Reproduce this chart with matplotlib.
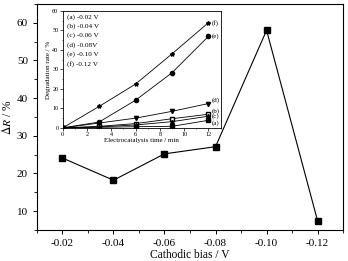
import matplotlib
matplotlib.use("Agg")
import matplotlib.pyplot as plt
from matplotlib.ticker import MultipleLocator

plt.rcParams["font.family"] = ["Liberation Serif", "DejaVu Serif"]
plt.rcParams["mathtext.fontset"] = "stix"

# main plot data
bias = [-0.02, -0.04, -0.06, -0.08, -0.10, -0.12]
delta_r = [24.1, 18.2, 25.2, 27.1, 58.0, 7.4]
bias_labels = ["-0.02", "-0.04", "-0.06", "-0.08", "-0.10", "-0.12"]

# inset data
time_min = [0, 3, 6, 9, 12]
rate_a = [0, 0.3, 0.6, 0.8, 3.9]
rate_b = [0, 0.8, 2.2, 4.7, 7.0]
rate_c = [0, 0.5, 1.5, 3.2, 6.0]
rate_d = [0, 2.5, 5.0, 8.5, 12.5]
rate_e = [0, 3.0, 14.2, 28.3, 47.0]
rate_f = [0, 11.0, 22.5, 38.0, 54.0]
series_tags = ["(a)", "(b)", "(c)", "(d)", "(e)", "(f)"]
legend_lines = ["(a) -0.02 V", "(b) -0.04 V", "(c) -0.06 V",
                "(d) -0.08V", "(e) -0.10 V", "(f) -0.12 V"]

fig = plt.figure(figsize=(3.48, 2.61), dpi=100)
ax = fig.add_axes([0.106, 0.119, 0.880, 0.866])
ax.plot(bias, delta_r, color="black", lw=0.8, marker="s", ms=4.5)
ax.set_xlim(-0.01, -0.13)
ax.set_ylim(5, 65)
ax.set_xticks(bias)
ax.set_xticklabels(bias_labels)
ax.xaxis.set_minor_locator(MultipleLocator(0.01))
ax.yaxis.set_major_locator(MultipleLocator(10))
ax.yaxis.set_minor_locator(MultipleLocator(5))
ax.tick_params(which="both", direction="out", labelsize=8, top=False, right=False)
ax.tick_params(which="major", length=3, width=0.7)
ax.tick_params(which="minor", length=2, width=0.6)
ax.set_xlabel("Cathodic bias / V", fontsize=8.3, labelpad=1)
ax.set_ylabel(r"$\Delta R$ / %", fontsize=8.3, labelpad=2)
for s in ax.spines.values():
    s.set_linewidth(0.8)

# inset
ins = fig.add_axes([0.180, 0.510, 0.454, 0.448])
styles = [
    dict(marker="s", mfc="black"),
    dict(marker="s", mfc="white"),
    dict(marker="^", mfc="black"),
    dict(marker="v", mfc="black"),
    dict(marker="o", mfc="black"),
    dict(marker="*", mfc="black"),
]
all_rates = [rate_a, rate_b, rate_c, rate_d, rate_e, rate_f]
for rates, st in zip(all_rates, styles):
    ins.plot(time_min, rates, color="black", lw=0.6, ms=3, mec="black", **st)

tag_offsets = [-1.5, 1.5, 0, 2.0, 0, 0]
for rates, tag, off in zip(all_rates, series_tags, tag_offsets):
    ins.text(12.3, rates[-1] + off, tag, fontsize=5, va="center", ha="left")

ins.set_xlim(0, 13)
ins.set_ylim(0, 60)
ins.xaxis.set_major_locator(MultipleLocator(2))
ins.xaxis.set_minor_locator(MultipleLocator(1))
ins.yaxis.set_major_locator(MultipleLocator(10))
ins.yaxis.set_minor_locator(MultipleLocator(5))
ins.tick_params(which="both", direction="out", labelsize=4.5, pad=1, top=False, right=False)
ins.tick_params(which="major", length=2, width=0.5)
ins.tick_params(which="minor", length=1, width=0.4)
ins.set_xlabel("Electrocatalysis time / min", fontsize=5, labelpad=1)
ins.set_ylabel("Degradation rate / %", fontsize=5, labelpad=1)
for s in ins.spines.values():
    s.set_linewidth(0.6)

for i, line in enumerate(legend_lines):
    ins.text(0.03, 0.95 - i * 0.08, line, transform=ins.transAxes,
             fontsize=5.2, va="center", ha="left")

fig.savefig("out.png", dpi=100)
